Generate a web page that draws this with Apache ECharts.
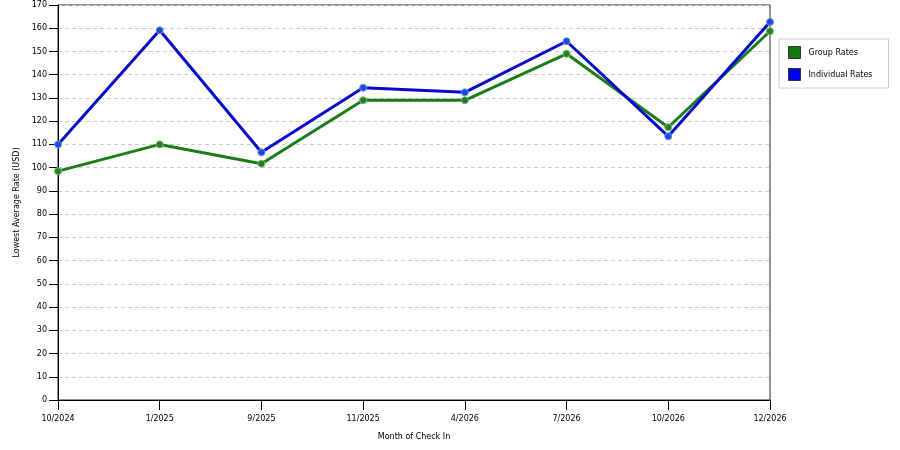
<!DOCTYPE html>
<html>
<head>
<meta charset="utf-8">
<script src="https://cdn.jsdelivr.net/npm/echarts@6/dist/echarts.min.js"></script>
<style>
html,body{margin:0;padding:0;background:#fff;}
#chart{width:900px;height:450px;}
</style>
</head>
<body>
<div id="chart"></div>
<script>
var categories = ['10/2024', '1/2025', '9/2025', '11/2025', '4/2026', '7/2026', '10/2026', '12/2026'];
var groupRates = [98.5, 110, 101.7, 129, 129, 149, 117.4, 158.7];
var individualRates = [110, 159.1, 106.6, 134.4, 132.4, 154.4, 113.5, 162.7];
var seriesNames = ['Group Rates', 'Individual Rates'];
var legendColors = ['#137613', '#0000f0'];

var FONT = 'DejaVu Sans';
var chart = echarts.init(document.getElementById('chart'));
chart.setOption({
  animation: false,
  backgroundColor: '#fff',
  grid: {
    left: 58, right: 130, top: 5, bottom: 50,
    show: true, borderColor: '#222', borderWidth: 1, backgroundColor: 'transparent'
  },
  legend: {
    orient: 'vertical',
    left: 779, top: 39,
    padding: [7, 16, 7, 9],
    itemWidth: 12, itemHeight: 12, itemGap: 9,
    icon: 'rect',
    backgroundColor: '#fff',
    borderColor: '#ccc', borderWidth: 1,
    textStyle: { fontFamily: FONT, fontSize: 8, color: '#000', padding: [0, 0, 0, 3] },
    data: [
      { name: seriesNames[0], itemStyle: { color: legendColors[0], borderColor: '#333', borderWidth: 1 } },
      { name: seriesNames[1], itemStyle: { color: legendColors[1], borderColor: '#333', borderWidth: 1 } }
    ]
  },
  xAxis: {
    type: 'category',
    data: categories,
    boundaryGap: false,
    name: 'Month of Check In',
    nameLocation: 'middle',
    nameGap: 33,
    nameTextStyle: { fontFamily: FONT, fontSize: 8, color: '#000' },
    axisLine: { lineStyle: { color: '#000', width: 1 } },
    axisTick: { alignWithLabel: true, length: 10, lineStyle: { color: '#000' } },
    axisLabel: { fontFamily: FONT, fontSize: 8, color: '#000', margin: 15 },
    splitLine: { show: false }
  },
  yAxis: {
    type: 'value',
    min: 0, max: 170, interval: 10,
    name: 'Lowest Average Rate (USD)',
    nameLocation: 'middle',
    nameGap: 36,
    nameTextStyle: { fontFamily: FONT, fontSize: 8, color: '#000' },
    axisLine: { show: true, lineStyle: { color: '#000', width: 1 } },
    axisTick: { show: true, length: 9, lineStyle: { color: '#000' } },
    axisLabel: { fontFamily: FONT, fontSize: 8, color: '#000', margin: 11 },
    splitLine: { show: true, lineStyle: { color: '#ccc', type: [4, 3], width: 1 } }
  },
  series: [
    {
      name: seriesNames[0],
      type: 'line',
      data: groupRates,
      color: '#1a7d1a',
      lineStyle: { width: 3, color: '#1a7d1a' },
      symbol: 'circle', symbolSize: 7,
      itemStyle: { color: '#2a7a2a', borderColor: '#6cbf6c', borderWidth: 1 }
    },
    {
      name: seriesNames[1],
      type: 'line',
      data: individualRates,
      color: '#0000e0',
      lineStyle: { width: 3, color: '#0a0acc' },
      symbol: 'circle', symbolSize: 7,
      itemStyle: { color: '#1a4ad6', borderColor: '#7090f0', borderWidth: 1 }
    }
  ]
});
</script>
</body>
</html>
